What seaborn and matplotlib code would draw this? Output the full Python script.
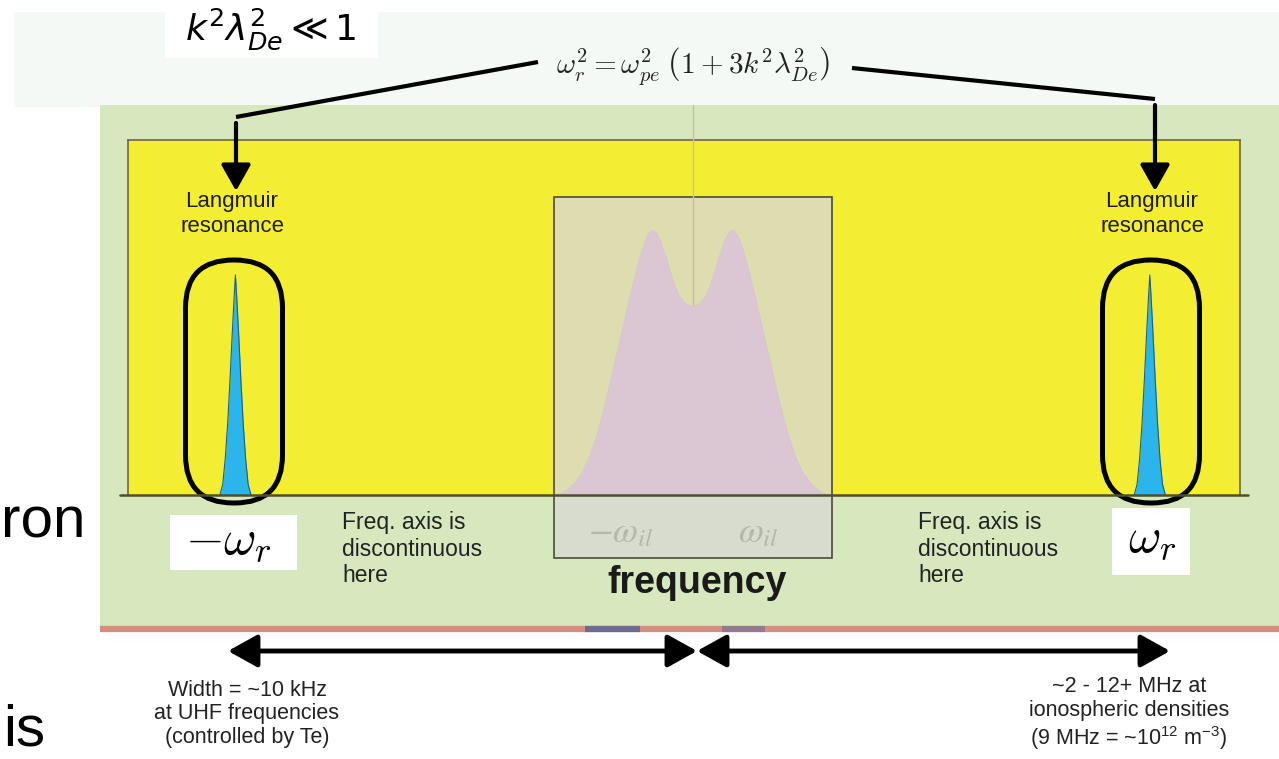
import numpy as np
import pandas as pd
import matplotlib
matplotlib.use("Agg")
import matplotlib.pyplot as plt
import seaborn as sns
from matplotlib.patches import Rectangle, FancyBboxPatch, FancyArrowPatch

# ---------------- data (display-frequency units, ion-line peaks at +-1) ----------------
ion_freq = [-3.3, -3.1, -2.9, -2.7, -2.5, -2.3, -2.1, -1.9, -1.7, -1.5, -1.35, -1.2, -1.1,
            -1.0, -0.9, -0.8, -0.65, -0.5, -0.35, -0.2, 0.0, 0.2, 0.35, 0.5, 0.65, 0.8,
            0.9, 1.0, 1.1, 1.2, 1.35, 1.5, 1.7, 1.9, 2.1, 2.3, 2.5, 2.7, 2.9, 3.1, 3.3]
ion_power = [0.0, 0.01, 0.03, 0.06, 0.11, 0.18, 0.27, 0.37, 0.47, 0.57, 0.64, 0.70, 0.73,
             0.745, 0.74, 0.72, 0.67, 0.61, 0.565, 0.54, 0.53, 0.54, 0.565, 0.61, 0.67, 0.72,
             0.74, 0.745, 0.73, 0.70, 0.64, 0.57, 0.47, 0.37, 0.27, 0.18, 0.11, 0.06, 0.03,
             0.01, 0.0]
lang_offset = [-0.38, -0.31, -0.25, -0.19, -0.13, -0.08, -0.035, 0.0,
               0.035, 0.08, 0.13, 0.19, 0.25, 0.31, 0.38]
lang_power = [0.0, 0.03, 0.10, 0.20, 0.33, 0.45, 0.55, 0.62,
              0.55, 0.45, 0.33, 0.20, 0.10, 0.03, 0.0]
lang_centers = [-11.15, 11.15]
lang_labels = [r"$-\omega_r$", r"$\omega_r$"]
ion_labels = [r"$-\omega_{il}$", r"$\omega_{il}$"]
freq_xlim = [-13.77, 13.35]

dispersion = r"$\omega_r^2 = \omega_{pe}^2\;\left(1 + 3k^2\lambda_{De}^2\right)$"
condition = r"$k^2\lambda_{De}^2 \ll 1$"
res_text = "Langmuir\nresonance"
disc_text = "Freq. axis is\ndiscontinuous\nhere"
axis_label = "frequency"
left_note = "Width = ~10 kHz\nat UHF frequencies\n(controlled by Te)"
right_note = ("~2 - 12+ MHz at\nionospheric densities\n"
              r"(9 MHz = ~10$^{\mathregular{12}}$ m$^{\mathregular{-3}}$)")

# ---------------- style ----------------
sns.set_theme(style="white")
plt.rcParams["font.family"] = ["Liberation Sans", "DejaVu Sans"]

W, H = 1279, 759
fig = plt.figure(figsize=(W / 100, H / 100), dpi=100)
fig.patch.set_facecolor("white")

def full_axes():
    a = fig.add_axes([0, 0, 1, 1])
    a.set_xlim(0, W)
    a.set_ylim(H, 0)
    a.axis("off")
    a.patch.set_alpha(0)
    return a

# background layer
bg = full_axes()
bg.add_patch(Rectangle((14, 12), W - 14, 95, color="#f5f9f5", lw=0))
bg.add_patch(Rectangle((100, 105), W - 100, 522, color="#d7e7be", lw=0))
bg.add_patch(Rectangle((165, 3), 213, 55, color="white", lw=0))
bg.plot([100, W], [629, 629], color="#d98c7e", lw=4.5, solid_capstyle="butt")
bg.plot([585, 640], [629, 629], color="#4a5f9c", lw=4.5, alpha=0.75, solid_capstyle="butt")
bg.plot([722, 765], [629, 629], color="#5a6aa0", lw=4.5, alpha=0.55, solid_capstyle="butt")

# spectrum axes (yellow frame)
x0, x1, ytop, ybase = 128, 1240, 140, 495
sx = fig.add_axes([x0 / W, 1 - ybase / H, (x1 - x0) / W, (ybase - ytop) / H])
sx.set_facecolor("#f4ee33")
sx.set_xlim(*freq_xlim)
sx.set_ylim(0, 1)
sx.set_xticks([])
sx.set_yticks([])
for side in ["top", "left", "right"]:
    sx.spines[side].set_visible(True)
    sx.spines[side].set_color("#6b6b3a")
    sx.spines[side].set_linewidth(1.2)
sx.spines["bottom"].set_visible(False)

sx.fill_between(ion_freq, ion_power, color="#e688d6", lw=0)
sns.lineplot(x=ion_freq, y=ion_power, ax=sx, color="#c98cc0", lw=1)
for c in lang_centers:
    xs = [c + o for o in lang_offset]
    sx.fill_between(xs, lang_power, color="#2bb5ea", lw=0)
    sns.lineplot(x=xs, y=lang_power, ax=sx, color="#1d5f7e", lw=0.8)

# foreground layer
fg = full_axes()
# translucent grey box over the ion line
fg.add_patch(Rectangle((554, 197), 278, 361, facecolor="#d9d9d4", alpha=0.78,
                       edgecolor="none"))
fg.add_patch(Rectangle((554, 197), 278, 361, fill=False, edgecolor="#4a4a3a", lw=1.2))
fg.plot([693, 693], [105, 305], color="#c4c39a", lw=1)
# baseline
fg.plot([120, 1248], [495, 495], color="#4f4f2a", lw=1.8)

# stadiums around Langmuir peaks
for cx in [234, 1151]:
    fg.add_patch(FancyBboxPatch((cx - 48.5, 260), 97, 243,
                                boxstyle="round,pad=0,rounding_size=48",
                                fill=False, ec="black", lw=3.6))

# connector lines and arrows from equation
fg.plot([236, 538], [117, 62], color="black", lw=3, solid_capstyle="butt")
fg.plot([852, 1155], [68, 99], color="black", lw=3, solid_capstyle="butt")
for ax_x, y_start in [(236, 123), (1155, 105)]:
    fg.add_patch(FancyArrowPatch((ax_x, y_start), (ax_x, 191),
                                 arrowstyle="-|>,head_length=0.8,head_width=0.45",
                                 mutation_scale=20, lw=3, color="black",
                                 shrinkA=0, shrinkB=0))

# bottom double arrows
for xa, xb in [(228, 697), (697, 1170)]:
    fg.add_patch(FancyArrowPatch((xa, 651), (xb, 651),
                                 arrowstyle="<|-|>,head_length=0.9,head_width=0.5",
                                 mutation_scale=20, lw=3.5, color="black",
                                 shrinkA=0, shrinkB=0))

# texts
fg.text(271, 29, condition, math_fontfamily="dejavusans", fontsize=26,
        ha="center", va="center", color="black")
fg.text(693, 66, dispersion, math_fontfamily="cm", fontsize=21,
        ha="center", va="center", color="#222222")
for cx in [232, 1152]:
    fg.text(cx, 214, res_text, ha="center", va="center", fontsize=16,
            linespacing=1.2, color="#1e1e1e")
for tx in [342, 918]:
    fg.text(tx, 549, disc_text, ha="left", va="center", fontsize=16.5,
            linespacing=1.2, color="#222222")

# omega_r labels in white boxes
fg.add_patch(Rectangle((170, 515), 127, 55, color="white", lw=0))
fg.add_patch(Rectangle((1112, 508), 78, 67, color="white", lw=0))
fg.text(229, 541, lang_labels[0], math_fontfamily="cm", fontsize=36,
        ha="center", va="center", color="black")
fg.text(1152, 539, lang_labels[1], math_fontfamily="cm", fontsize=36,
        ha="center", va="center", color="black")

# ion line labels (faded)
for cx, lab in zip([621, 758], ion_labels):
    fg.text(cx, 533, lab, math_fontfamily="stix", fontsize=26,
            ha="center", va="center", color="#b3b7ae")

fg.text(697, 583, axis_label, fontsize=27, fontweight="bold",
        ha="center", va="center", color="#1a1a1a")

fg.text(247, 714, left_note, ha="center", va="center", fontsize=15.5,
        linespacing=1.18, color="#222222")
fg.text(1129, 714, right_note, ha="center", va="center", fontsize=15.5,
        linespacing=1.18, color="#222222")

# slide text on the left edge
fg.text(1, 538, "ron", ha="left", va="baseline", fontsize=42, color="black")
fg.text(3, 745, "is", ha="left", va="baseline", fontsize=42, color="black")

fig.savefig("out.png", dpi=100)
